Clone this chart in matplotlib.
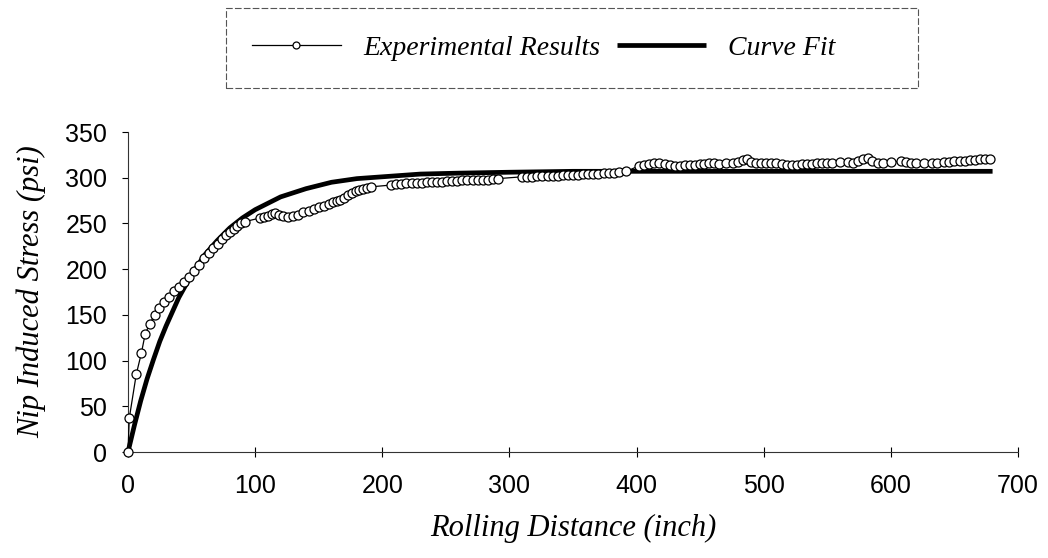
import matplotlib
matplotlib.use("Agg")
import matplotlib.pyplot as plt
from matplotlib.patches import Rectangle

# ---------------- data ----------------
exp_x = [0, 1, 6.5, 10.5, 13.5, 17, 21, 24, 28, 32, 36, 40, 44, 48, 52, 56, 60, 64, 67, 71,
         74, 77, 80, 83, 86, 89, 92,
         104, 107, 110, 113, 116, 119, 122, 126, 130, 134, 138, 142, 146, 150, 154, 158,
         161, 164, 167, 170, 173, 176, 179, 182, 185, 188, 191,
         207, 211, 215, 219, 223, 227, 231, 235, 239, 243, 247, 251, 255, 259, 263, 267,
         271, 275, 279, 283, 287, 291,
         310, 314, 318, 322, 326, 330, 334, 338, 342, 346, 350, 354, 358, 362, 366, 370,
         374, 378, 382, 386, 392,
         402, 406, 410, 414, 418, 422, 426, 430, 434, 438, 442, 446, 450, 453, 457, 461,
         465, 470, 476, 480, 484, 487, 490, 494, 498, 502, 506, 510, 514, 518, 522, 526,
         530, 534, 538, 542, 546, 550, 554, 560, 566, 570, 574, 578, 582, 585, 590, 594,
         600, 608, 612, 616, 620, 626, 632, 636, 642, 646, 650, 654, 658, 662, 666, 670,
         674, 678]
exp_y = [0, 37, 85, 108, 129, 140, 150, 158, 164, 170, 176, 181, 186, 191, 198, 205, 212, 218, 223, 228,
         233, 237, 241, 244, 247, 250, 252,
         256, 257, 258, 260, 261, 259, 258, 257, 258, 259, 262, 264, 266, 268, 269, 271,
         273, 275, 276, 278, 281, 283, 285, 287, 288, 289, 290,
         292, 293, 293, 294, 294, 294, 294, 295, 295, 295, 295, 296, 296, 296, 297, 297,
         297, 298, 298, 298, 299, 299,
         301, 301, 301, 302, 302, 302, 302, 302, 303, 303, 303, 303, 304, 304, 304, 304,
         305, 305, 305, 306, 307,
         313, 314, 315, 316, 316, 315, 314, 313, 313, 314, 314, 314, 315, 315, 316, 316,
         315, 316, 316, 317, 319, 321, 317, 316, 316, 316, 316, 316, 315, 314, 314, 314,
         315, 315, 315, 316, 316, 316, 316, 317, 317, 316, 318, 320, 322, 318, 316, 316,
         317, 318, 317, 316, 316, 316, 316, 316, 317, 317, 318, 318, 318, 319, 319, 320,
         320, 321]

fit_x = [0, 5, 10, 15, 20, 25, 30, 40, 50, 60, 70, 80, 90, 100, 120, 140, 160, 180,
         200, 230, 260, 300, 350, 400, 450, 500, 550, 600, 650, 680]
fit_y = [0, 29, 56, 80, 101, 121, 138, 169, 194, 215, 231, 245, 256, 265, 279, 288, 295, 299,
         301, 304, 305, 306, 307, 307, 307, 307, 307, 307, 307, 307]

x_ticks = [0, 100, 200, 300, 400, 500, 600, 700]
y_ticks = [0, 50, 100, 150, 200, 250, 300, 350]

sans = "Liberation Sans"
serif = "Liberation Serif"

W, H = 1048, 558
fig = plt.figure(figsize=(W / 100, H / 100), dpi=100)
# plot area: x=0 at px 128, x=700 at px 1018; y=0 at px 452, y=350 at px 132
ax = fig.add_axes([128 / W, 1 - 452 / H, (1018 - 128) / W, (452 - 132) / H])

ax.plot(fit_x, fit_y, color="black", lw=3.4, solid_capstyle="butt", zorder=2,
        label="Curve Fit")
ax.plot(exp_x, exp_y, color="black", lw=0.9, marker="o", markersize=6.5,
        markerfacecolor="white", markeredgecolor="black", markeredgewidth=0.9,
        zorder=3, label="Experimental Results")

ax.set_xlim(0, 700)
ax.set_ylim(0, 350)
ax.set_xticks(x_ticks)
ax.set_yticks(y_ticks)
ax.set_xticklabels([str(v) for v in x_ticks], family=sans, fontsize=18)
ax.set_yticklabels([str(v) for v in y_ticks], family=sans, fontsize=18)
ax.tick_params(axis="x", direction="inout", length=7, width=0.8, pad=12)
ax.tick_params(axis="y", direction="out", length=4, width=0.8, pad=11)

for s in ["top", "right"]:
    ax.spines[s].set_visible(False)
for s in ["left", "bottom"]:
    ax.spines[s].set_linewidth(0.8)
    ax.spines[s].set_color("#333333")
for m in ax.lines:
    m.set_clip_on(False)

ax.set_xlabel("Rolling Distance (inch)", family=serif, style="italic", fontsize=22,
              labelpad=12)
ax.set_ylabel("Nip Induced Stress (psi)", family=serif, style="italic", fontsize=22,
              labelpad=14)

# legend box (drawn separately so it can be wider than its entries)
fig.patches.append(Rectangle((226 / W, 1 - 88 / H), (918 - 226) / W, 80 / H,
                             transform=fig.transFigure, fill=False,
                             edgecolor="#555555", lw=0.8, linestyle=(0, (6, 2))))

h, l = ax.get_legend_handles_labels()
leg = fig.legend([h[1], h[0]], [l[1], l[0]], loc="center left",
                 bbox_to_anchor=(252 / W, 1 - 48 / H), ncol=2,
                 prop={"family": serif, "style": "italic", "size": 20},
                 frameon=False, handlelength=3.2,
                 columnspacing=0.6, handletextpad=0.8, borderaxespad=0,
                 borderpad=0)
for lh in leg.legend_handles:
    if lh.get_marker() == "o":
        lh.set_markersize(5)

fig.savefig("out.png", dpi=100, facecolor="white")
